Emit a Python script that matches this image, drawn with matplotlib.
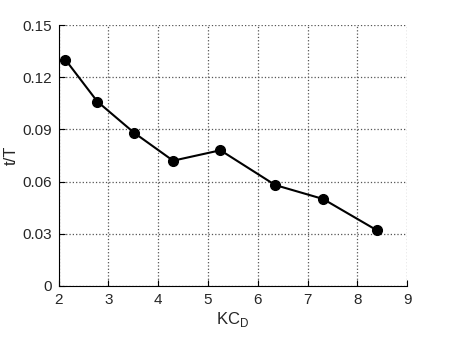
import matplotlib
matplotlib.use("Agg")
import matplotlib.pyplot as plt

kc = [2.14, 2.78, 3.52, 4.30, 5.25, 6.35, 7.31, 8.39]
t_over_T = [0.130, 0.106, 0.088, 0.072, 0.078, 0.058, 0.050, 0.032]
xticks = [2, 3, 4, 5, 6, 7, 8, 9]
yticks = [0, 0.03, 0.06, 0.09, 0.12, 0.15]
ytick_labels = ["0", "0.03", "0.06", "0.09", "0.12", "0.15"]

plt.rcParams['font.family'] = ['Liberation Sans', 'DejaVu Sans']
plt.rcParams['text.color'] = '#262626'
plt.rcParams['axes.labelcolor'] = '#262626'
plt.rcParams['xtick.labelcolor'] = '#262626'
plt.rcParams['ytick.labelcolor'] = '#262626'

fig = plt.figure(figsize=(4.5, 3.38), dpi=100)
ax = fig.add_axes([0.130, 0.154, 0.775, 0.772])

ax.plot(kc, t_over_T, '-o', color='black', lw=1.5, ms=7, zorder=3)

ax.set_xlim(2, 9)
ax.set_ylim(0, 0.15)
ax.set_xticks(xticks)
ax.set_yticks(yticks)
ax.set_yticklabels(ytick_labels)
ax.tick_params(direction='in', labelsize=11, length=4, width=0.8, pad=5)
ax.grid(True, linestyle=':', color='#555555', linewidth=0.9)
ax.spines['top'].set_visible(False)
ax.spines['right'].set_visible(False)

ax.set_xlabel('KC$_\\mathregular{D}$', fontsize=12, labelpad=2)
ax.set_ylabel('t/T', fontsize=12, labelpad=2)

fig.savefig('out.png', dpi=100)
